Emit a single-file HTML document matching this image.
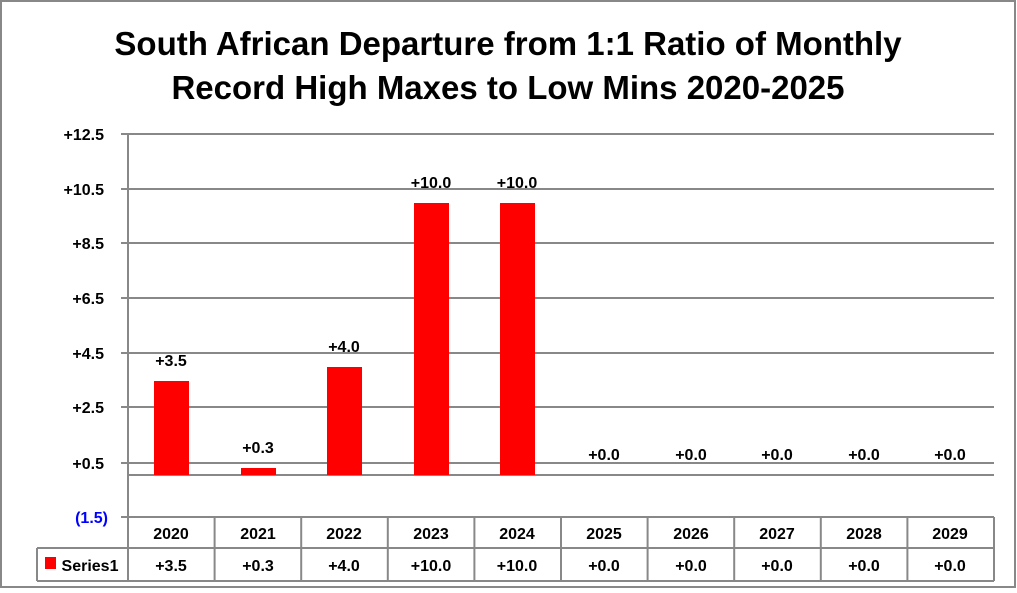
<!DOCTYPE html>
<html><head><style>body{margin:0;background:#fff}svg{display:block}</style></head><body>
<svg width="1017" height="593" xmlns="http://www.w3.org/2000/svg" font-family="Liberation Sans, sans-serif">
<rect x="1" y="1" width="1014" height="586" fill="#fff" stroke="#888" stroke-width="2"/>
<text x="508" y="55" text-anchor="middle" font-size="33" font-weight="bold">South African Departure from 1:1 Ratio of Monthly</text>
<text x="508" y="99" text-anchor="middle" font-size="33" font-weight="bold">Record High Maxes to Low Mins 2020-2025</text>
<g stroke="#888" stroke-width="2">
<line x1="121" y1="134" x2="994" y2="134"/>
<line x1="121" y1="189" x2="994" y2="189"/>
<line x1="121" y1="243" x2="994" y2="243"/>
<line x1="121" y1="298" x2="994" y2="298"/>
<line x1="121" y1="353" x2="994" y2="353"/>
<line x1="121" y1="407" x2="994" y2="407"/>
<line x1="121" y1="463" x2="994" y2="463"/>
<line x1="121" y1="517" x2="994" y2="517"/>
<line x1="128" y1="475" x2="994" y2="475"/>
<line x1="128" y1="134" x2="128" y2="581"/>
<line x1="994" y1="517" x2="994" y2="581"/>
<line x1="37" y1="548" x2="994" y2="548"/>
<line x1="37" y1="581" x2="994" y2="581"/>
<line x1="37" y1="548" x2="37" y2="581"/>
<line x1="214.6" y1="517" x2="214.6" y2="581"/><line x1="301.2" y1="517" x2="301.2" y2="581"/><line x1="387.8" y1="517" x2="387.8" y2="581"/><line x1="474.4" y1="517" x2="474.4" y2="581"/><line x1="561" y1="517" x2="561" y2="581"/><line x1="647.6" y1="517" x2="647.6" y2="581"/><line x1="734.2" y1="517" x2="734.2" y2="581"/><line x1="820.8" y1="517" x2="820.8" y2="581"/><line x1="907.4" y1="517" x2="907.4" y2="581"/>
</g>
<g fill="#f00">
<rect x="154" y="381" width="35" height="94"/>
<rect x="241" y="468" width="35" height="7"/>
<rect x="327" y="367" width="35" height="108"/>
<rect x="414" y="203" width="35" height="272"/>
<rect x="500" y="203" width="35" height="272"/>
<rect x="45" y="557" width="11" height="12"/>
</g>
<g font-size="16" font-weight="bold" text-anchor="end">
<text x="104" y="140">+12.5</text><text x="104" y="195">+10.5</text><text x="104" y="249">+8.5</text><text x="104" y="304">+6.5</text><text x="104" y="359">+4.5</text><text x="104" y="413">+2.5</text><text x="104" y="469">+0.5</text><text x="108" y="523" fill="#00f">(1.5)</text>
</g>
<g font-size="16" font-weight="bold" text-anchor="middle">
<text x="171" y="366">+3.5</text><text x="258" y="453">+0.3</text><text x="344" y="352">+4.0</text><text x="431" y="188">+10.0</text><text x="517" y="188">+10.0</text><text x="604" y="460">+0.0</text><text x="691" y="460">+0.0</text><text x="777" y="460">+0.0</text><text x="864" y="460">+0.0</text><text x="950" y="460">+0.0</text>
<text x="171" y="539">2020</text><text x="258" y="539">2021</text><text x="344" y="539">2022</text><text x="431" y="539">2023</text><text x="517" y="539">2024</text><text x="604" y="539">2025</text><text x="691" y="539">2026</text><text x="777" y="539">2027</text><text x="864" y="539">2028</text><text x="950" y="539">2029</text>
<text x="171" y="571">+3.5</text><text x="258" y="571">+0.3</text><text x="344" y="571">+4.0</text><text x="431" y="571">+10.0</text><text x="517" y="571">+10.0</text><text x="604" y="571">+0.0</text><text x="691" y="571">+0.0</text><text x="777" y="571">+0.0</text><text x="864" y="571">+0.0</text><text x="950" y="571">+0.0</text>
<text x="90" y="571">Series1</text>
</g>
</svg>
</body></html>
